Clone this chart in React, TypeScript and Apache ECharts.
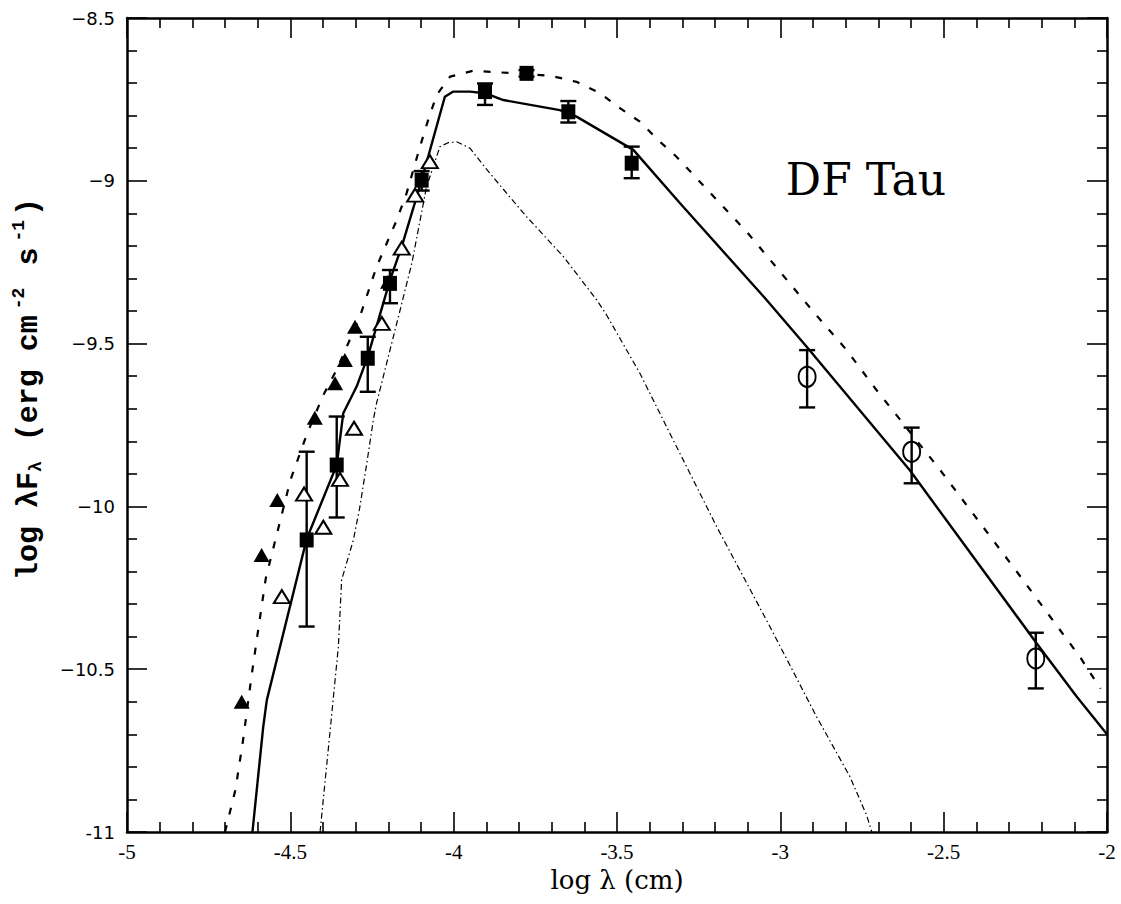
import React, { useEffect, useRef } from "react";
import * as echarts from "echarts";

// ---- Data ----
const xTickValues = [-5, -4.5, -4, -3.5, -3, -2.5, -2];
const xTickLabels = ["-5", "-4.5", "-4", "-3.5", "-3", "-2.5", "-2"];
const yTickValues = [-11, -10.5, -10, -9.5, -9, -8.5];
const yTickLabels = ["-11", "\u221210.5", "\u221210", "\u22129.5", "\u22129", "\u22128.5"];

// model curves: [log lambda, log lambda F_lambda]
const solidModel = [
  [-4.616, -11.0], [-4.583, -10.677], [-4.572, -10.595], [-4.45, -10.1], [-4.358, -9.873],
  [-4.338, -9.714], [-4.297, -9.632], [-4.263, -9.54], [-4.195, -9.305], [-4.159, -9.202],
  [-4.098, -8.998], [-4.027, -8.742], [-4.001, -8.726], [-3.95, -8.726], [-3.904, -8.731],
  [-3.848, -8.752], [-3.675, -8.783], [-3.624, -8.803], [-3.45, -8.905], [-3.307, -9.069],
  [-3.042, -9.366], [-2.92, -9.509], [-2.603, -9.89], [-2.215, -10.421], [-2.093, -10.584],
  [-2.0, -10.7],
];
const dashedModel = [
  [-4.7, -11.0], [-4.668, -10.87], [-4.645, -10.72], [-4.62, -10.53], [-4.6, -10.39],
  [-4.575, -10.22], [-4.54, -10.08], [-4.5, -9.92], [-4.45, -9.78], [-4.4, -9.66],
  [-4.358, -9.58], [-4.287, -9.417], [-4.236, -9.264], [-4.174, -9.12], [-4.144, -9.038],
  [-4.103, -8.895], [-4.078, -8.813], [-4.052, -8.736], [-4.011, -8.68], [-3.94, -8.662],
  [-3.858, -8.667], [-3.7, -8.678], [-3.624, -8.696], [-3.552, -8.731], [-3.491, -8.777],
  [-3.43, -8.818], [-3.374, -8.875], [-3.318, -8.926], [-3.1, -9.16], [-2.899, -9.402],
  [-2.797, -9.52], [-2.71, -9.637], [-2.511, -9.888], [-2.272, -10.206], [-2.083, -10.462],
  [-2.02, -10.56],
];
const photosphereModel = [
  [-4.409, -11.0], [-4.379, -10.697], [-4.353, -10.431], [-4.343, -10.226], [-4.307, -10.103],
  [-4.287, -10.001], [-4.266, -9.868], [-4.246, -9.735], [-4.236, -9.683], [-4.164, -9.397],
  [-4.128, -9.253], [-4.083, -9.018], [-4.042, -8.895], [-4.017, -8.883], [-3.991, -8.88],
  [-3.95, -8.9], [-3.899, -8.965], [-3.838, -9.038], [-3.777, -9.11], [-3.664, -9.233],
  [-3.562, -9.366], [-3.532, -9.412], [-3.43, -9.591], [-3.338, -9.776], [-3.195, -10.062],
  [-3.032, -10.369], [-2.889, -10.646], [-2.787, -10.83], [-2.736, -10.948], [-2.72, -11.0],
];

// observations: [x, y, low, high]
const filledSquares = [
  [-4.45, -10.103, -10.369, -9.832],
  [-4.358, -9.873, -10.034, -9.724],
  [-4.263, -9.545, -9.648, -9.479],
  [-4.195, -9.315, -9.376, -9.274],
  [-4.098, -8.998, -9.03, -8.97],
  [-3.904, -8.726, -8.767, -8.701],
  [-3.777, -8.67, -8.68, -8.66],
  [-3.649, -8.788, -8.821, -8.755],
  [-3.455, -8.946, -8.992, -8.895],
];
const openCircles = [
  [-2.918, -9.602, -9.696, -9.52],
  [-2.598, -9.832, -9.929, -9.758],
  [-2.218, -10.467, -10.559, -10.388],
];
const filledTriangles = [
  [-4.649, -10.6], [-4.588, -10.149], [-4.54, -9.98], [-4.425, -9.728], [-4.363, -9.622],
  [-4.333, -9.55], [-4.302, -9.448], [-4.201, -9.31],
];
const openTriangles = [
  [-4.526, -10.277], [-4.458, -9.962], [-4.399, -10.064], [-4.348, -9.917], [-4.305, -9.76],
  [-4.22, -9.438], [-4.159, -9.207], [-4.118, -9.044], [-4.073, -8.941],
];

const W = 1121;
const H = 904;
const GRID = { left: 127, top: 18, right: 14, bottom: 72 };

function fmt(values: number[], labels: string[]) {
  return (v: number) => {
    const i = values.findIndex((t) => Math.abs(t - v) < 1e-6);
    return i >= 0 ? labels[i] : "";
  };
}

function errorBarSeries(data: number[][]) {
  return {
    type: "custom",
    silent: true,
    z: 3,
    data: data.map((d) => [d[0], d[2], d[3]]),
    encode: { x: 0, y: [1, 2] },
    renderItem: (params: any, api: any) => {
      const x = api.value(0);
      const lo = api.coord([x, api.value(1)]);
      const hi = api.coord([x, api.value(2)]);
      const cap = 8;
      const style = { stroke: "#000", lineWidth: 2.4 };
      return {
        type: "group",
        children: [
          { type: "line", shape: { x1: lo[0], y1: lo[1], x2: hi[0], y2: hi[1] }, style },
          { type: "line", shape: { x1: lo[0] - cap, y1: lo[1], x2: lo[0] + cap, y2: lo[1] }, style },
          { type: "line", shape: { x1: hi[0] - cap, y1: hi[1], x2: hi[0] + cap, y2: hi[1] }, style },
        ],
      };
    },
  };
}

export default function App() {
  const ref = useRef<HTMLDivElement>(null);

  useEffect(() => {
    if (!ref.current) return;
    const chart = echarts.init(ref.current, null, { renderer: "svg", width: W, height: H });

    const axisCommon = {
      min: -5,
      max: -2,
      interval: 0.5,
    };
    const tickStyle = {
      axisLine: { show: true, onZero: false, lineStyle: { color: "#000", width: 2.5 } },
      axisTick: { show: true, inside: true, length: 20, lineStyle: { color: "#000", width: 1.6 } },
      minorTick: { show: true, splitNumber: 5, length: 10, lineStyle: { color: "#000", width: 1.6 } },
      splitLine: { show: false },
      minorSplitLine: { show: false },
    };

    const mono = "Liberation Mono";
    const option = {
      animation: false,
      backgroundColor: "#fff",
      grid: { ...GRID, containLabel: false },
      xAxis: [
        {
          type: "value",
          position: "bottom",
          ...axisCommon,
          ...tickStyle,
          axisLabel: {
            show: true,
            margin: 9,
            color: "#000",
            fontFamily: "Liberation Serif",
            fontSize: 21,
            formatter: fmt(xTickValues, xTickLabels),
          },
        },
        {
          type: "value",
          position: "top",
          ...axisCommon,
          ...tickStyle,
          axisLabel: { show: false },
        },
      ],
      yAxis: [
        {
          type: "value",
          position: "left",
          min: -11,
          max: -8.5,
          interval: 0.5,
          ...tickStyle,
          axisLabel: {
            show: true,
            margin: 12,
            color: "#000",
            fontFamily: "DejaVu Sans",
            fontSize: 18,
            formatter: fmt(yTickValues, yTickLabels),
          },
        },
        {
          type: "value",
          position: "right",
          min: -11,
          max: -8.5,
          interval: 0.5,
          ...tickStyle,
          axisLabel: { show: false },
        },
      ],
      graphic: [
        {
          type: "text",
          x: 866,
          y: 179,
          style: {
            text: "DF Tau",
            fontFamily: "DejaVu Serif",
            fontSize: 44,
            fill: "#000",
            align: "center",
            verticalAlign: "middle",
          },
        },
        {
          type: "text",
          x: 617,
          y: 880,
          style: {
            text: "log \u03bb (cm)",
            fontFamily: "DejaVu Serif",
            fontSize: 26,
            fill: "#000",
            align: "center",
            verticalAlign: "middle",
          },
        },
        {
          type: "text",
          x: 29,
          y: 389,
          rotation: Math.PI / 2,
          style: {
            text: "{a|log \u03bbF}{s|\u03bb}{a| (erg cm}{p|-2}{a| s}{p|-1}{a|)}",
            align: "center",
            verticalAlign: "middle",
            rich: {
              a: { fontFamily: mono, fontWeight: "bold", fontSize: 30, fill: "#000", lineHeight: 38, verticalAlign: "middle" },
              s: { fontFamily: mono, fontWeight: "bold", fontSize: 18, fill: "#000", lineHeight: 38, verticalAlign: "bottom", padding: [0, 2, 3, 0] },
              p: { fontFamily: mono, fontWeight: "bold", fontSize: 18, fill: "#000", lineHeight: 38, verticalAlign: "top", padding: [0, 4, 0, 6] },
            },
          },
        },
      ],
      series: [
        {
          type: "line",
          data: photosphereModel,
          showSymbol: false,
          silent: true,
          z: 1,
          lineStyle: { color: "#000", width: 1.2, type: [6, 3, 1.5, 3] },
        },
        {
          type: "line",
          data: dashedModel,
          showSymbol: false,
          silent: true,
          z: 1,
          lineStyle: { color: "#000", width: 2.2, type: [7, 11] },
        },
        {
          type: "line",
          data: solidModel,
          showSymbol: false,
          silent: true,
          z: 2,
          lineStyle: { color: "#000", width: 2.4 },
        },
        errorBarSeries(filledSquares),
        errorBarSeries(openCircles),
        {
          type: "scatter",
          data: filledSquares.map((d) => [d[0], d[1]]),
          symbol: "rect",
          symbolSize: [14, 15],
          silent: true,
          z: 4,
          itemStyle: { color: "#000", opacity: 1 },
        },
        {
          type: "scatter",
          data: filledTriangles,
          symbol: "triangle",
          symbolSize: [16, 14],
          silent: true,
          z: 4,
          itemStyle: { color: "#000", opacity: 1 },
        },
        {
          type: "scatter",
          data: openTriangles,
          symbol: "triangle",
          symbolSize: [16, 13],
          silent: true,
          z: 4,
          itemStyle: { color: "#fff", borderColor: "#000", borderWidth: 2, opacity: 1 },
        },
        {
          type: "scatter",
          data: openCircles.map((d) => [d[0], d[1]]),
          symbol: "circle",
          symbolSize: [17, 20],
          silent: true,
          z: 4,
          itemStyle: { color: "rgba(255,255,255,0)", borderColor: "#000", borderWidth: 2, opacity: 1 },
        },
      ],
    };

    chart.setOption(option as any);
    return () => chart.dispose();
  }, []);

  return (
    <div
      ref={ref}
      style={{ position: "fixed", left: 0, top: 0, width: W, height: H, background: "#fff" }}
    />
  );
}
